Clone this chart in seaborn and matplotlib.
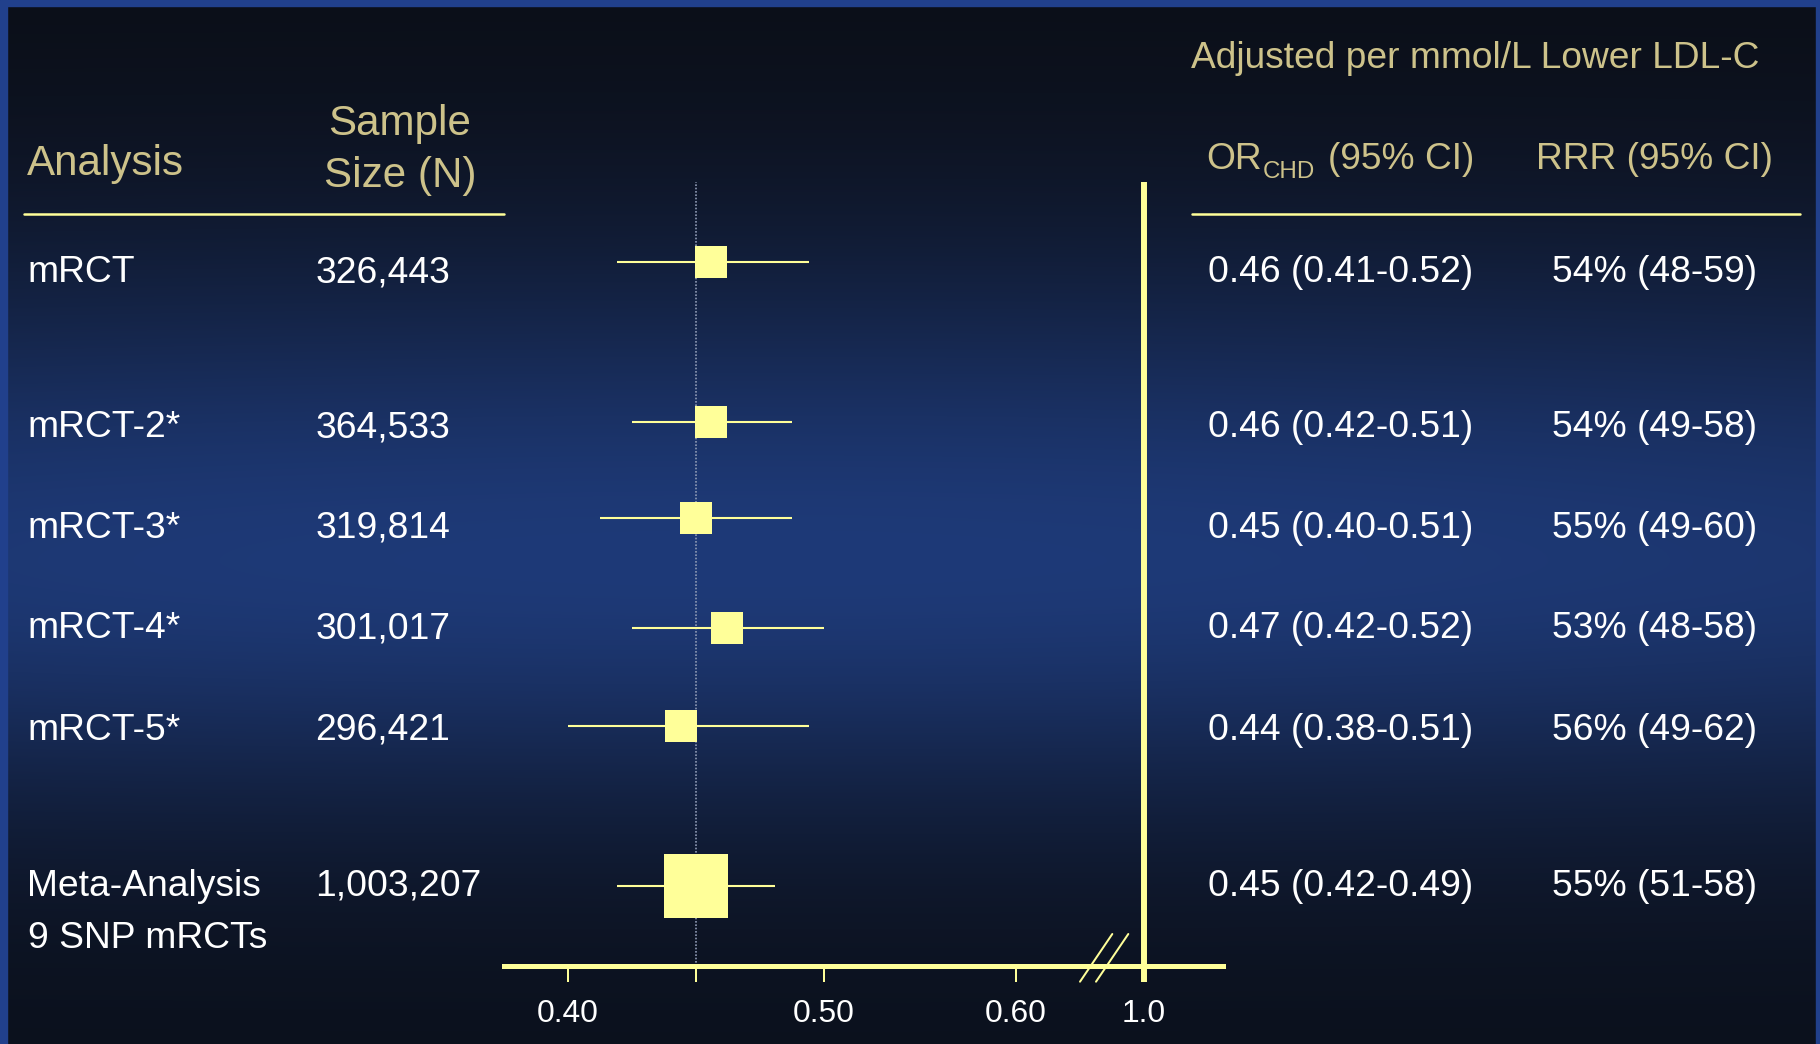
import numpy as np
import pandas as pd
import matplotlib
matplotlib.use("Agg")
import matplotlib.pyplot as plt
import seaborn as sns
from matplotlib.lines import Line2D
from matplotlib.patches import Rectangle

# ---------------- data ----------------
analyses = ["mRCT", "mRCT-2*", "mRCT-3*", "mRCT-4*", "mRCT-5*", "Meta-Analysis\n9 SNP mRCTs"]
sample_sizes = [326443, 364533, 319814, 301017, 296421, 1003207]
or_est = [0.46, 0.46, 0.45, 0.47, 0.44, 0.45]
or_lo = [0.41, 0.42, 0.40, 0.42, 0.38, 0.42]
or_hi = [0.52, 0.51, 0.51, 0.52, 0.51, 0.49]
rrr_est = [54, 54, 55, 53, 56, 55]
rrr_lo = [48, 49, 49, 48, 49, 51]
rrr_hi = [59, 58, 60, 58, 62, 58]
# positions of the marks as drawn on the slide
plot_est = [0.456, 0.456, 0.450, 0.462, 0.444, 0.450]
plot_lo = [0.419, 0.425, 0.4125, 0.425, 0.400, 0.419]
plot_hi = [0.494, 0.4875, 0.4875, 0.500, 0.494, 0.481]
is_meta = [False, False, False, False, False, True]
tick_values = [0.40, 0.45, 0.50, 0.60, 1.0]
tick_labels = ["0.40", "", "0.50", "0.60", "1.0"]
ref_line = 0.45

# ---------------- layout / style ----------------
W, H, DPI = 1820, 1044, 100
row_mark_y = [262, 422, 518, 628, 726, 886]
row_text_base = [282, 437.5, 537.5, 638.5, 739.5, 896]
YELLOW = "#FFFF99"
KHAKI = "#CDC28A"
WHITE = "#FFFFFF"

sns.set_theme(style="white")
plt.rcParams["font.family"] = ["Liberation Sans", "DejaVu Sans"]

fig = plt.figure(figsize=(W / DPI, H / DPI), dpi=DPI)


def fx(px):
    return px / W


def fy(py):
    return 1 - py / H


# background gradient
bg = fig.add_axes([0, 0, 1, 1], zorder=-10)
yy, xx = np.mgrid[0:H, 0:W].astype(float)
sig = np.where(yy < 560, 300.0, 255.0)
w = np.exp(-((yy - 560) / sig) ** 2) * (1 - 0.10 * ((xx - 750) / 1100) ** 2)
dark_top = np.array([11, 14, 22]) / 255
dark_bot = np.array([11, 16, 27]) / 255
blue = np.array([30, 58, 120]) / 255
t = (yy / H)[..., None]
dark = dark_top * (1 - t) + dark_bot * t
img = dark * (1 - w[..., None]) + blue * w[..., None]
bg.imshow(img, extent=[0, W, H, 0], aspect="auto", interpolation="bilinear")
bg.set_xlim(0, W)
bg.set_ylim(H, 0)
bg.axis("off")

# border
for (x0, y0, ww, hh) in [(0, 0, W, 6), (0, 0, 7, H), (W - 4, 0, 4, H)]:
    fig.patches.append(Rectangle((fx(x0), fy(y0 + hh)), ww / W, hh / H,
                                 transform=fig.transFigure, color="#21408C", zorder=5))

# ---------------- forest axes ----------------
x_knots = [0.30, 0.40, 0.50, 0.60, 1.00, 1.50]
p_knots = [312, 568, 824, 1016, 1144, 1304]


def fwd(v):
    return np.interp(v, x_knots, p_knots)


def inv(p):
    return np.interp(p, p_knots, x_knots)


ax_l, ax_r, ax_t, ax_b = 504, 1223, 182, 966
ax = fig.add_axes([fx(ax_l), fy(ax_b), (ax_r - ax_l) / W, (ax_b - ax_t) / H])
ax.set_facecolor("none")
ax.patch.set_alpha(0)
ax.set_xscale("function", functions=(fwd, inv))
ax.set_xlim(inv(ax_l), inv(ax_r))
ax.set_ylim(ax_b, ax_t)
for s in ["top", "left", "right"]:
    ax.spines[s].set_visible(False)
ax.spines["bottom"].set_color(YELLOW)
ax.spines["bottom"].set_linewidth(3.6)
ax.set_yticks([])
ax.set_xticks(tick_values)
ax.set_xticklabels(tick_labels)
ax.minorticks_off()
ax.tick_params(axis="x", direction="out", length=11.3, width=1.44, color=YELLOW,
               labelcolor=WHITE, labelsize=22.9, pad=12.6, bottom=True)
ax.xaxis.get_major_ticks()[4].tick1line.set_markeredgewidth(4.3)

ax.axvline(1.0, color=YELLOW, lw=4.3, zorder=2)
ax.axvline(ref_line, color="#8f9ab4", lw=1.2, ls=(0, (1, 1)), zorder=1)

df = pd.DataFrame({"est": plot_est, "lo": plot_lo, "hi": plot_hi,
                   "y": row_mark_y, "meta": is_meta})
ax.hlines(df["y"], df["lo"], df["hi"], color=YELLOW, lw=1.5, zorder=2)
sns.scatterplot(data=df[~df["meta"]], x="est", y="y", marker="s", s=531,
                color=YELLOW, linewidth=0, ax=ax, legend=False, zorder=3)
sns.scatterplot(data=df[df["meta"]], x="est", y="y", marker="s", s=2123,
                color=YELLOW, linewidth=0, ax=ax, legend=False, zorder=3)
ax.set_xlabel("")
ax.set_ylabel("")

# axis break marks
for (x0, y0, x1, y1) in [(1080, 981.7, 1112.3, 934), (1096, 981.7, 1128.3, 934)]:
    fig.lines.append(Line2D([fx(x0), fx(x1)], [fy(y0), fy(y1)], transform=fig.transFigure,
                            color=YELLOW, lw=1.44, zorder=6))

# header underlines
for (x0, x1) in [(24, 504), (1192, 1800)]:
    fig.lines.append(Line2D([fx(x0), fx(x1)], [fy(213.5), fy(213.5)], transform=fig.transFigure,
                            color=YELLOW, lw=1.8, zorder=6))

# ---------------- headers ----------------
fig.text(fx(27), fy(175), "Analysis", color=KHAKI, fontsize=30.3, va="baseline", ha="left")
fig.text(fx(400), fy(135), "Sample", color=KHAKI, fontsize=30.3, va="baseline", ha="center")
fig.text(fx(400), fy(186.7), "Size (N)", color=KHAKI, fontsize=30.3, va="baseline", ha="center")
fig.text(fx(1191), fy(68.3), "Adjusted per mmol/L Lower LDL-C", color=KHAKI, fontsize=26.7,
         va="baseline", ha="left")
fig.text(fx(1206.5), fy(169.3), "OR", color=KHAKI, fontsize=26.7, va="baseline", ha="left")
fig.text(fx(1262.5), fy(177.7), "CHD", color=KHAKI, fontsize=17.4, va="baseline", ha="left")
fig.text(fx(1327.5), fy(169.3), "(95% CI)", color=KHAKI, fontsize=26.7, va="baseline", ha="left")
fig.text(fx(1536.5), fy(169.3), "RRR (95% CI)", color=KHAKI, fontsize=26.7, va="baseline", ha="left")

# ---------------- rows ----------------
for i, name in enumerate(analyses):
    base = row_text_base[i]
    for j, line in enumerate(name.split("\n")):
        fig.text(fx(27.5), fy(base + 52.2 * j), line, color=WHITE, fontsize=26.8,
                 va="baseline", ha="left")
    fig.text(fx(315.5), fy(base), f"{sample_sizes[i]:,}", color=WHITE, fontsize=26.8,
             va="baseline", ha="left")
    fig.text(fx(1208), fy(base), f"{or_est[i]:.2f} ({or_lo[i]:.2f}-{or_hi[i]:.2f})",
             color=WHITE, fontsize=26.8, va="baseline", ha="left")
    fig.text(fx(1552.5), fy(base), f"{rrr_est[i]}% ({rrr_lo[i]}-{rrr_hi[i]})",
             color=WHITE, fontsize=26.8, va="baseline", ha="left")

fig.savefig("out.png", dpi=DPI)
